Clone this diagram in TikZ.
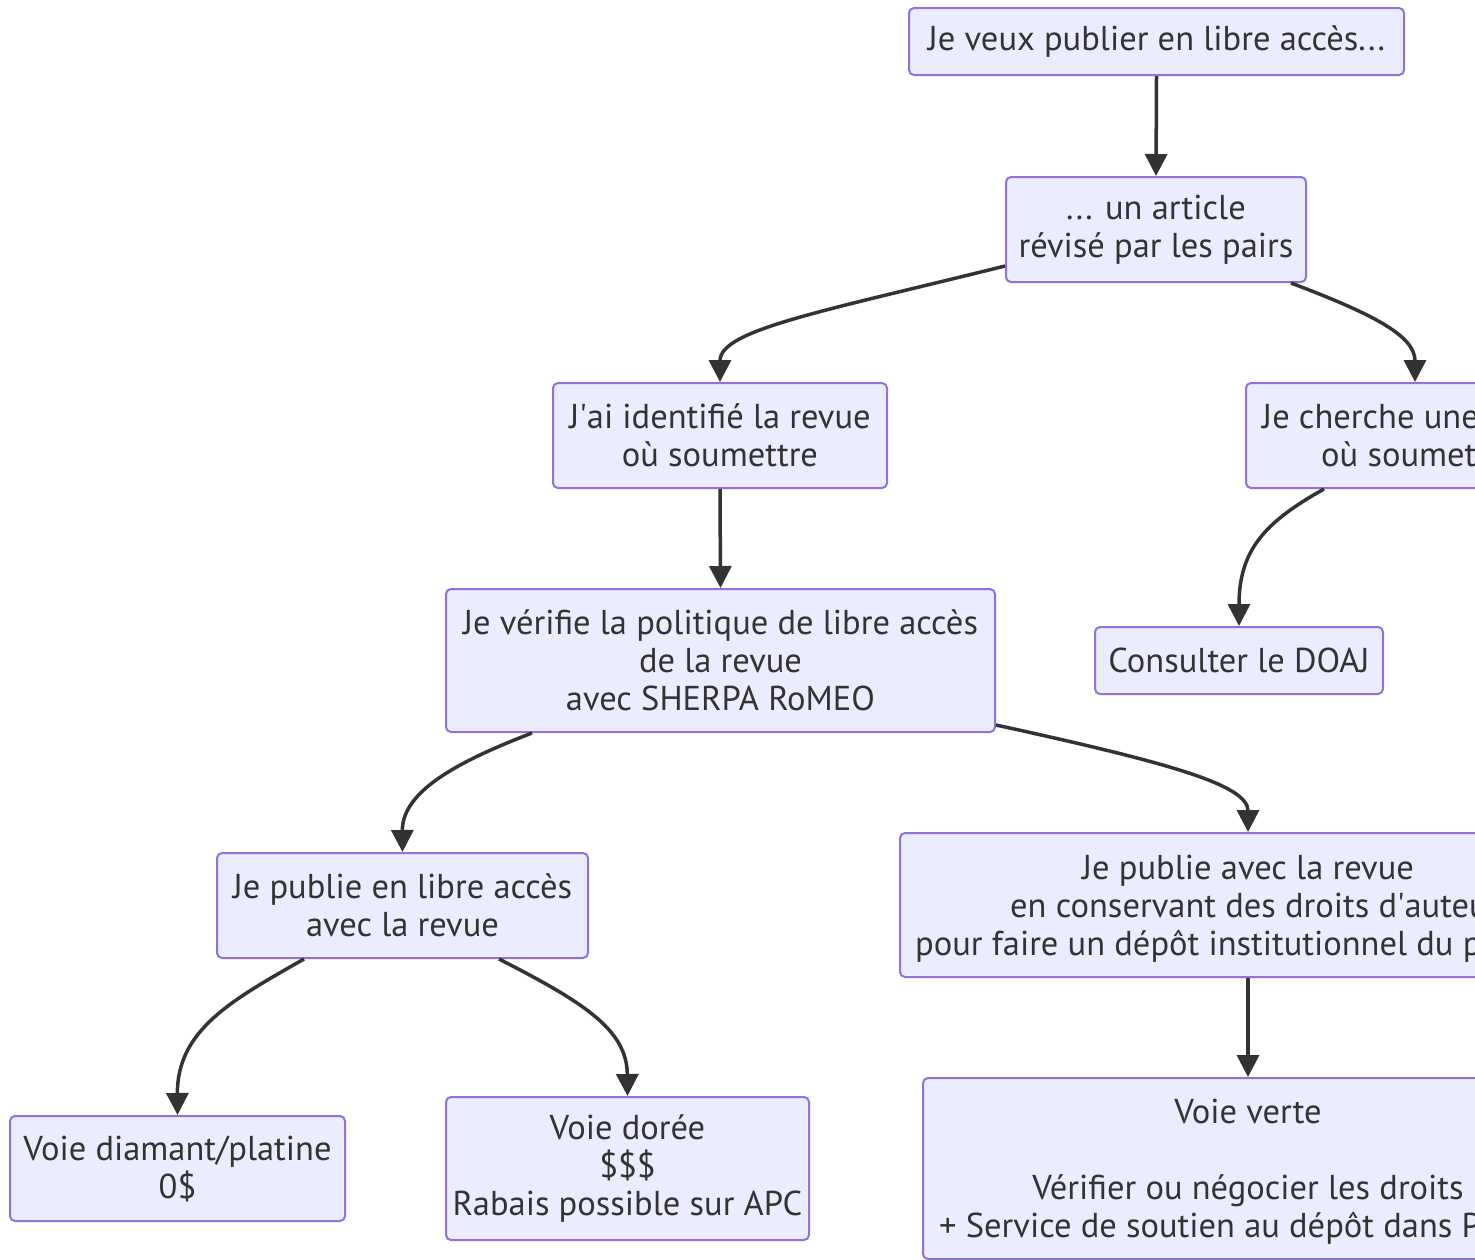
\documentclass[tikz,border=0pt]{standalone}
\usepackage{fontspec}
\setmainfont{PT Sans}
\usetikzlibrary{arrows.meta,calc}
\definecolor{nodefill}{HTML}{ECECFF}
\definecolor{nodeline}{HTML}{9370DB}
\definecolor{ink}{HTML}{333333}
\begin{document}
\begin{tikzpicture}[x=1pt,y=-1pt,
  box/.style={draw=nodeline, fill=nodefill, line width=2pt, rounded corners=5pt,
    inner sep=0pt, align=center, text=ink, font=\fontsize{34.5}{38}\selectfont},
  lbl/.style={inner sep=0pt, text=ink, font=\fontsize{34.5}{38}\selectfont},
  link/.style={draw=ink, line width=3.5pt, -{Triangle[length=22pt,width=22pt]}}]
\useasboundingbox (0,0) rectangle (1475,1259);
\clip (0,0) rectangle (1475,1259);
% nodes
\node[box, minimum width=495pt, minimum height=67pt] (A) at (1156.5,41.5) {Je veux publier en libre accès...};
\node[box, minimum width=300pt, minimum height=105pt] (B) at (1156,229.5) {... un article\\révisé par les pairs};
\node[box, minimum width=334pt, minimum height=105pt] (C) at (720,435.5) {J\textquotesingle ai identifié la revue\\où soumettre};
\node[box, minimum width=338pt, minimum height=105pt] (D) at (1415,435.5) {};
\node[lbl, anchor=base west] (D1) at (1262,428.5) {Je cherche une};
\node[lbl, anchor=base west] (D2) at (1321,466.5) {où soumett};
\node[box, minimum width=288pt, minimum height=67pt] (E) at (1239,660.5) {Consulter le DOAJ};
\node[box, minimum width=549pt, minimum height=143pt] (F) at (720.5,660.5) {Je vérifie la politique de libre accès\\de la revue\\avec SHERPA RoMEO};
\node[box, minimum width=371pt, minimum height=105pt] (G) at (402.5,905.5) {Je publie en libre accès\\avec la revue};
\node[box, minimum width=696pt, minimum height=144pt] (H) at (1248,905) {};
\node[lbl, anchor=base] (H1) at (1248,879) {Je publie avec la revue};
\node[lbl, anchor=base west] (H2) at (1010,917) {en conservant des droits d\textquotesingle auteu};
\node[lbl, anchor=base west] (H3) at (915,955) {pour faire un dépôt institutionnel du po};
\node[box, minimum width=335pt, minimum height=105pt] (I) at (177.5,1168.5) {Voie diamant/platine\\0\$};
\node[box, minimum width=363pt, minimum height=143pt] (J) at (627.5,1168.5) {Voie dorée\\\$\$\$\\Rabais possible sur APC};
\node[box, minimum width=650pt, minimum height=181pt] (K) at (1248,1168.5) {};
\node[lbl, anchor=base] (K1) at (1248,1123.5) {Voie verte};
\node[lbl, anchor=base] (K2) at (1248,1199.5) {Vérifier ou négocier les droits};
\node[lbl, anchor=base west] (K3) at (939,1237.5) {+ Service de soutien au dépôt dans Pa};
% connectors
\draw[link] (A.south) -- (B.north);
\draw[link] ($(B.south west)+(0,-17)$) .. controls (820,312) and (720,330) .. (C.north);
\draw[link] ($(B.south east)+(-16,0)$) .. controls (1370,313) and (1415,335) .. (D.north);
\draw[link] (C.south) -- (F.north);
\draw[link] ($(D.south west)+(79,0)$) .. controls (1265,522) and (1239,550) .. (E.north);
\draw[link] ($(F.south west)+(87,0)$) .. controls (462,760) and (402,790) .. (G.north);
\draw[link] ($(F.south east)+(0,-8)$) .. controls (1170,763) and (1248,785) .. (H.north);
\draw[link] ($(G.south west)+(88,0)$) .. controls (232,1000) and (177,1030) .. (I.north);
\draw[link] ($(G.south west)+(283,0)$) .. controls (585,1003) and (627,1030) .. (J.north);
\draw[link] (H.south) -- (K.north);
\end{tikzpicture}
\end{document}
